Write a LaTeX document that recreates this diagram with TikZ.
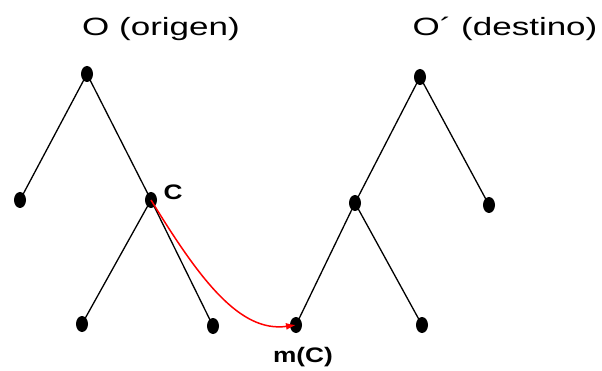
\documentclass[tikz,border=0pt]{standalone}
\usepackage{fontspec}
\setmainfont{Liberation Sans}
\usetikzlibrary{arrows.meta,shapes.geometric}
\begin{document}
\begin{tikzpicture}[x=1pt,y=-1pt,
  dotnode/.style={shape=ellipse, fill=black, draw=none, minimum width=12pt, minimum height=16pt, inner sep=0pt},
  branch/.style={draw=black,line width=1.3pt},
  title/.style={font=\fontsize{25}{28}\selectfont, xscale=1.4, inner sep=0pt},
  lbl/.style={font=\bfseries\fontsize{21}{24}\selectfont, xscale=1.25, inner sep=0pt},
  redarrow/.style={draw=red,line width=1.5pt,-{Latex[length=10pt,width=7pt]}}
]
\useasboundingbox (0,0) rectangle (602,371);
% left tree
\node[dotnode] (lr) at (87,74) {};
\node[dotnode] (ll) at (20,200) {};
\node[dotnode] (c) at (151,200) {};
\node[dotnode] (cl) at (82,324) {};
\node[dotnode] (cr) at (213,326) {};
% right tree
\node[dotnode] (rr) at (420,77) {};
\node[dotnode] (ri) at (355,203) {};
\node[dotnode] (rl) at (489,205) {};
\node[dotnode] (mc) at (296,325) {};
\node[dotnode] (rir) at (422,325) {};
% edges
\draw[branch] (lr.center) -- (ll.center);
\draw[branch] (lr.center) -- (c.center);
\draw[branch] (c.center) -- (cl.center);
\draw[branch] (c.center) -- (cr.center);
\draw[branch] (rr.center) -- (ri.center);
\draw[branch] (rr.center) -- (rl.center);
\draw[branch] (ri.center) -- (mc.center);
\draw[branch] (ri.center) -- (rir.center);
% red mapping arrow
\draw[redarrow] (c.center) .. controls (200,280) and (240,333) .. (mc.center);
% labels
\node[title] (t1) at (161,29) {O (origen)};
\node[title] (t2) at (505,29) {O´ (destino)};
\node[lbl] (cl1) at (173,192) {C};
\node[lbl] (mcl) at (303,357) {m(C)};
\end{tikzpicture}
\end{document}
